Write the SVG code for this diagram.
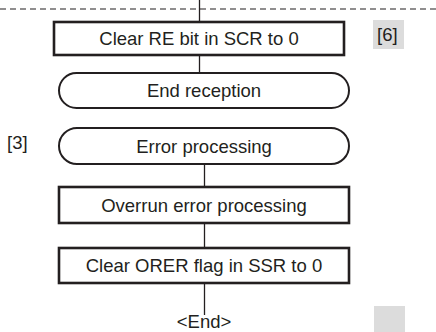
<svg xmlns="http://www.w3.org/2000/svg" width="436" height="332" viewBox="0 0 436 332">
<style>
.box{fill:#fff;stroke:#231f20;stroke-width:2.6}
.term{fill:#fff;stroke:#231f20;stroke-width:2}
.t{font-family:"Liberation Sans",Arial,sans-serif;font-size:18.5px;fill:#231f20;text-anchor:middle}
.lbl{font-family:"Liberation Sans",Arial,sans-serif;font-size:18.5px;fill:#231f20}
.ln{stroke:#231f20;stroke-width:1.3;fill:none}
.tag{fill:#dcdcdc}
</style>
<line x1="0" y1="9" x2="436" y2="9" stroke="#231f20" stroke-width="1.2" stroke-dasharray="6 4"/>
<g id="connectors">
<line class="ln" x1="199.5" y1="0" x2="199.5" y2="22"/>
<line class="ln" x1="199.5" y1="55" x2="199.5" y2="73"/>
<line class="ln" x1="204.5" y1="164" x2="204.5" y2="187"/>
<line class="ln" x1="204.5" y1="223" x2="204.5" y2="248"/>
<line class="ln" x1="204.5" y1="283" x2="204.5" y2="315"/>
</g>
<g id="clear-re">
<rect class="box" x="54" y="22" width="290" height="33"/>
<text class="t" x="199" y="45">Clear RE bit in SCR to 0</text>
</g>
<g id="tag6">
<rect class="tag" x="373" y="20" width="31" height="29"/>
<text class="lbl" x="377" y="41">[6]</text>
</g>
<g id="end-reception">
<rect class="term" x="59" y="73" width="290" height="35" rx="17.5" ry="17.5"/>
<text class="t" x="204" y="97">End reception</text>
</g>
<g id="tag3">
<text class="lbl" x="7" y="149">[3]</text>
</g>
<g id="error-processing">
<rect class="term" x="59" y="128" width="290" height="36" rx="18" ry="18"/>
<text class="t" x="204" y="152.5">Error processing</text>
</g>
<g id="overrun">
<rect class="box" x="59" y="187" width="290" height="36"/>
<text class="t" x="204" y="211.5">Overrun error processing</text>
</g>
<g id="clear-orer">
<rect class="box" x="59" y="248" width="290" height="35"/>
<text class="t" x="204" y="272">Clear ORER flag in SSR to 0</text>
</g>
<g id="end">
<text class="t" x="204" y="328">&lt;End&gt;</text>
</g>
<rect class="tag" x="374" y="306" width="31" height="26"/>
</svg>
